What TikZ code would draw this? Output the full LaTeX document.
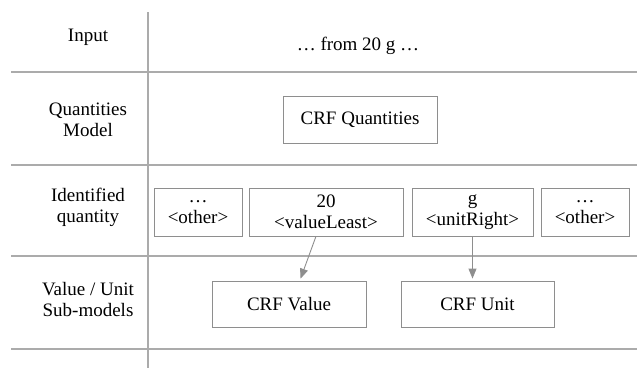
\documentclass[tikz,border=0pt]{standalone}
\usepackage{fontspec}
\setmainfont{Liberation Serif}
\usetikzlibrary{arrows.meta, calc, positioning}
\definecolor{rulegray}{HTML}{ABABAB}
\definecolor{boxgray}{HTML}{8E8E8E}
\tikzset{
    rowlabel/.style={align=center, inner sep=0pt, font=\fontsize{19}{21}\selectfont},
    crfbox/.style={draw=boxgray, line width=0.9pt, align=center, inner sep=0pt,
        minimum height=46pt, font=\fontsize{19}{21}\selectfont},
    tagbox/.style={crfbox, minimum height=48pt},
    sepline/.style={rulegray, line width=1.2pt},
    feed/.style={boxgray, line width=0.9pt, shorten >=2pt, -{Triangle[width=8pt,length=10pt]}}
}
\begin{document}
\begin{tikzpicture}[x=1pt, y=-1pt]
    \useasboundingbox (0,0) rectangle (637,368);
    % table rules
    \draw[sepline] (148,12) -- (148,368);
    \foreach \yy in {72,165,256,349}
        \draw[sepline] (11,\yy) -- (637,\yy);
    % row labels
    \node[rowlabel] (rinput) at (88,37) {Input};
    \node[rowlabel] (rmodel) at (88,120) {Quantities\\Model};
    \node[rowlabel] (rident) at (88,207) {Identified\\quantity};
    \node[rowlabel] (rsub) at (88,299) {Value / Unit\\Sub-models};
    % contents
    \node[rowlabel] (sentence) at (358,46) {… from 20 g …};
    \node[crfbox, minimum width=154pt, minimum height=47pt] (crfq) at (360,119.5) {CRF Quantities};
    \node[tagbox, minimum width=88pt] (otherl) at (198,212) {…\\<other>};
    \node[tagbox, minimum width=154pt] (least) at (326,212) {20\\<valueLeast>};
    \node[tagbox, minimum width=121pt] (unitr) at (472.5,212) {g\\<unitRight>};
    \node[tagbox, minimum width=88pt] (otherr) at (585,212) {…\\<other>};
    \node[crfbox, minimum width=154pt] (crfval) at (289,304) {CRF Value};
    \node[crfbox, minimum width=153pt] (crfunit) at (477.5,304) {CRF Unit};
    % links
    \draw[feed] ($(least.south west)!0.435!(least.south east)$)
        -- ($(crfval.north west)!0.57!(crfval.north east)$);
    \draw[feed] (unitr.south) -- (unitr.south |- crfunit.north);
\end{tikzpicture}
\end{document}
